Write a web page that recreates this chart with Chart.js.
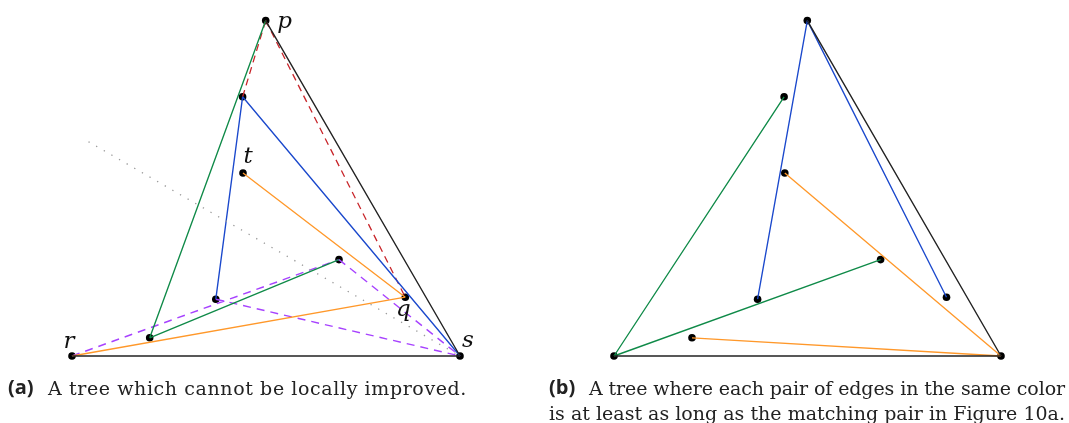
<!DOCTYPE html>
<html>
<head>
<meta charset="utf-8">
<script src="https://cdn.jsdelivr.net/npm/chart.js@4/dist/chart.umd.min.js"></script>
<style>
    body { margin: 0; background: #fff; }
    .wrap { position: relative; width: 1069px; height: 423px; overflow: hidden; }
    canvas { position: absolute; left: 0; top: 0; }
    .cap { position: absolute; font-family: "DejaVu Serif", serif; font-size: 19px; color: #222; line-height: 24px; white-space: nowrap; }
    .tag { position: absolute; font-family: "Open Sans", "DejaVu Sans", sans-serif; font-weight: 700; font-size: 20px; color: #222; line-height: 24px; }
</style>
</head>
<body>
<div class="wrap">
    <canvas id="treeChart" width="1069" height="423"></canvas>
    <div class="tag" style="left:8px; top:375px;">(a)</div>
    <div class="cap line" style="left:48px; top:376px;" data-w="419">A tree which cannot be locally improved.</div>
    <div class="tag" style="left:549px; top:375px;">(b)</div>
    <div class="cap line" style="left:589px; top:376px;" data-w="476">A tree where each pair of edges in the same color</div>
    <div class="cap line" style="left:549px; top:401px;" data-w="516">is at least as long as the matching pair in Figure 10a.</div>
</div>
<script>
// ============== DATA ==============

// Figure (a): point names and their positions
const namesA = ['p', 'a1', 't', 'b1', 'c1', 'q', 'd1', 'r', 's'];
const xA = [265.7, 242.6, 243.0, 215.8, 339.0, 405.3, 149.7, 72, 460];
const yA = [20.6, 96.8, 173, 299.2, 259.6, 297.2, 337.8, 356, 356];

// Figure (b)
const namesB = ['P', 'E', 'F', 'G', 'H', 'I', 'J', 'R', 'S'];
const xB = [807.3, 784.1, 784.8, 757.6, 880.6, 946.5, 692, 614, 1001];
const yB = [20.6, 96.8, 173, 299.2, 259.6, 297.2, 337.8, 356, 356];

// Edges grouped by colour
const blackA = [['r', 's'], ['p', 's']];
const greenA = [['p', 'd1'], ['d1', 'c1']];
const blueA = [['a1', 'b1'], ['a1', 's']];
const orangeA = [['t', 'q'], ['r', 'q']];
const redDashA = [['a1', 'p'], ['p', 'q']];
const purpleDashA = [['r', 'c1'], ['c1', 's'], ['b1', 's']];

const blackB = [['R', 'S'], ['P', 'S']];
const greenB = [['R', 'E'], ['R', 'H']];
const blueB = [['P', 'G'], ['P', 'I']];
const orangeB = [['F', 'S'], ['J', 'S']];

// Gray dotted guide line (a)
const guideX = [88.5, 460];
const guideY = [141.7, 356];

// Labels in figure (a)
const labelNames = ['p', 't', 'q', 'r', 's'];

// ============== BUILD ==============

function lookup(name) {
    let i = namesA.indexOf(name);
    if (i >= 0) return { x: xA[i], y: yA[i] };
    i = namesB.indexOf(name);
    return { x: xB[i], y: yB[i] };
}

function edgeData(edges) {
    const data = [];
    edges.forEach(e => {
        data.push(lookup(e[0]));
        data.push(lookup(e[1]));
        data.push({ x: null, y: null });
    });
    return data;
}

function lineSet(edges, color, width, dash) {
    return {
        type: 'scatter',
        data: edgeData(edges),
        showLine: true,
        spanGaps: false,
        borderColor: color,
        borderWidth: width,
        borderDash: dash || [],
        pointRadius: 0,
        pointHoverRadius: 0,
        fill: false
    };
}

const dotData = [];
namesA.forEach((n, i) => dotData.push({ x: xA[i], y: yA[i] }));
namesB.forEach((n, i) => dotData.push({ x: xB[i], y: yB[i] }));

const guideData = guideX.map((x, i) => ({ x: x, y: guideY[i] }));

const datasets = [
    Object.assign(lineSet([], '#999', 1.3, [1.3, 7.5]), { data: guideData }),
    lineSet(blackA, '#222', 1.4),
    lineSet(blackB, '#222', 1.4),
    lineSet(greenA, '#0f8a48', 1.35),
    lineSet(greenB, '#0f8a48', 1.35),
    lineSet(blueA, '#1a48cc', 1.35),
    lineSet(blueB, '#1a48cc', 1.35),
    lineSet(orangeA, '#ff982a', 1.35),
    lineSet(orangeB, '#ff982a', 1.35),
    lineSet(redDashA, '#c8252a', 1.3, [7, 5]),
    lineSet(purpleDashA, '#a742ff', 1.4, [8, 6]),
    {
        type: 'scatter',
        data: dotData,
        pointRadius: 3.8,
        pointBackgroundColor: '#000',
        pointBorderWidth: 0,
        showLine: false
    }
];

// Draws the italic point labels of figure (a)
const labelPlugin = {
    id: 'pointLabels',
    afterDatasetsDraw(chart) {
        const ctx = chart.ctx;
        const sx = chart.scales.x, sy = chart.scales.y;
        const offsets = { p: [19, 1], t: [5, -16], q: [-2, 13], r: [-3, -14], s: [8, -15] };
        ctx.save();
        ctx.font = 'italic 23px "DejaVu Serif", serif';
        ctx.fillStyle = '#111';
        ctx.textBaseline = 'middle';
        ctx.textAlign = 'center';
        labelNames.forEach(n => {
            const pt = lookup(n);
            const o = offsets[n];
            ctx.fillText(n, sx.getPixelForValue(pt.x) + o[0], sy.getPixelForValue(pt.y) + o[1]);
        });
        ctx.restore();
    }
};

new Chart(document.getElementById('treeChart').getContext('2d'), {
    type: 'scatter',
    data: { datasets: datasets },
    options: {
        responsive: false,
        animation: false,
        clip: false,
        layout: { padding: 0, autoPadding: false },
        plugins: { legend: { display: false }, tooltip: { enabled: false } },
        scales: {
            x: { type: 'linear', min: 0, max: 1069, display: false },
            y: { type: 'linear', min: 0, max: 423, reverse: true, display: false }
        }
    },
    plugins: [labelPlugin]
});

// Stretch caption lines to the widths they have in the figure
document.querySelectorAll('.line').forEach(el => {
    const target = parseFloat(el.dataset.w);
    const n = el.textContent.length;
    const w = el.getBoundingClientRect().width;
    el.style.letterSpacing = ((target - w) / n) + 'px';
});
</script>
</body>
</html>
